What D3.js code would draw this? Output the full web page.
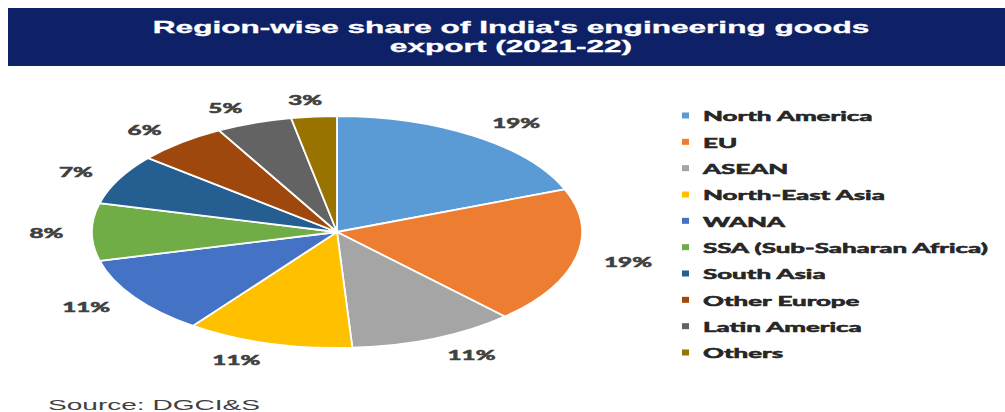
<!DOCTYPE html>
<html>
<head>
<meta charset="utf-8">
<script src="https://cdn.jsdelivr.net/npm/d3@7"></script>
<style>
  html, body { margin: 0; padding: 0; background: #ffffff; }
  svg { display: block; }
</style>
</head>
<body>
<svg id="chart" width="1005" height="412"></svg>
<script>
// ---- data ----
const categories = ["North America", "EU", "ASEAN", "North-East Asia", "WANA",
  "SSA (Sub-Saharan Africa)", "South Asia", "Other Europe", "Latin America", "Others"];
const shares = [19, 19, 11, 11, 11, 8, 7, 6, 5, 3];
const colors = ["#5B9BD5", "#ED7D31", "#A5A5A5", "#FFC000", "#4472C4",
  "#70AD47", "#255E91", "#9E480E", "#636363", "#997300"];
const titleLines = ["Region-wise share of India's engineering goods", "export (2021-22)"];
const sourceText = "Source: DGCI&S";

// ---- layout ----
const W = 1005, H = 412;
const cx = 337, cy = 232, rx = 245, ry = 116;
const stretch = rx / ry;
const svg = d3.select("#chart");

// Title bar
svg.append("rect").attr("x", 8).attr("y", 8).attr("width", W - 8).attr("height", 58)
  .attr("fill", "#0f2166");

function stretchedText(g, txt, x, y, targetW, opts) {
  const t = g.append("text").text(txt)
    .attr("font-family", opts.family).attr("font-weight", opts.weight)
    .attr("font-size", opts.size).attr("fill", opts.fill)
    .attr("text-anchor", opts.anchor || "start")
    .attr("dominant-baseline", opts.baseline || "auto");
  if (opts.stroke) {
    t.attr("stroke", opts.fill).attr("stroke-width", opts.stroke).attr("paint-order", "stroke");
  }
  const w = t.node().getComputedTextLength();
  const sx = opts.sx || targetW / w;
  t.attr("transform", `translate(${x},${y}) scale(${sx},1)`);
  return { node: t, sx: sx, w: w * sx };
}

const titleOpts = { family: "'Liberation Sans', Arial, sans-serif", weight: "bold", size: 16, fill: "#ffffff", anchor: "middle", stroke: 0.3 };
const t1 = stretchedText(svg, titleLines[0], 511, 33, 717, titleOpts);
stretchedText(svg, titleLines[1], 511, 52, 0, Object.assign({}, titleOpts, { sx: t1.sx }));

// Pie
const pie = d3.pie().sort(null).value(d => d).startAngle(0).endAngle(2 * Math.PI);
const arcs = pie(shares);
const arc = d3.arc().innerRadius(0).outerRadius(ry);
const pieG = svg.append("g").attr("transform", `translate(${cx},${cy}) scale(${stretch},1)`);
pieG.selectAll("path").data(arcs).join("path")
  .attr("d", arc)
  .attr("fill", (d, i) => colors[i])
  .attr("stroke", "#ffffff")
  .attr("stroke-width", 1.8)
  .attr("vector-effect", "non-scaling-stroke");

// Data labels
const labelOpts = { family: "Lato, 'Open Sans', sans-serif", weight: "bold", size: 14, fill: "#404040", anchor: "middle", baseline: "central", stroke: 0.6 };
const probe = svg.append("text").text("11%").attr("font-family", labelOpts.family)
  .attr("font-weight", "bold").attr("font-size", 14);
const labelSx = 48 / probe.node().getComputedTextLength();
probe.remove();

const gap = 12, halfH = 5;
arcs.forEach((d, i) => {
  const mid = (d.startAngle + d.endAngle) / 2;
  const s = Math.sin(mid), c = Math.cos(mid);
  const ex = cx + rx * s, ey = cy - ry * c;
  const txt = d3.format(".0f")(d.value) + "%";
  const lab = stretchedText(svg, txt, 0, 0, 0, Object.assign({}, labelOpts, { sx: labelSx }));
  const halfW = lab.w / stretch / 2 + 1.5;
  const boxX = Math.sign(s) * halfW * Math.min(1, Math.abs(s) / 0.3);
  const x = ex + stretch * (gap * s + boxX);
  const y = ey - c * (gap + halfH);
  lab.node.attr("transform", `translate(${x},${y}) scale(${labelSx},1)`);
});

// Legend
const legendOpts = { family: "Lato, 'Open Sans', sans-serif", weight: "bold", size: 14, fill: "#262626", baseline: "central", stroke: 0.6 };
const probe2 = svg.append("text").text(categories[5]).attr("font-family", legendOpts.family)
  .attr("font-weight", "bold").attr("font-size", 14);
const legendSx = 285 / probe2.node().getComputedTextLength();
probe2.remove();

const ly = d3.scalePoint().domain(categories).range([115.5, 352.5]);
const legend = svg.append("g");
categories.forEach((name, i) => {
  legend.append("rect").attr("x", 682).attr("y", ly(name) - 3).attr("width", 7).attr("height", 6)
    .attr("fill", colors[i]);
  stretchedText(legend, name, 703, ly(name), 0, Object.assign({}, legendOpts, { sx: legendSx }));
});

// Source
stretchedText(svg, sourceText, 48, 410, 212,
  { family: "'Liberation Sans', Arial, sans-serif", weight: "normal", size: 14, fill: "#404040" });
</script>
</body>
</html>
